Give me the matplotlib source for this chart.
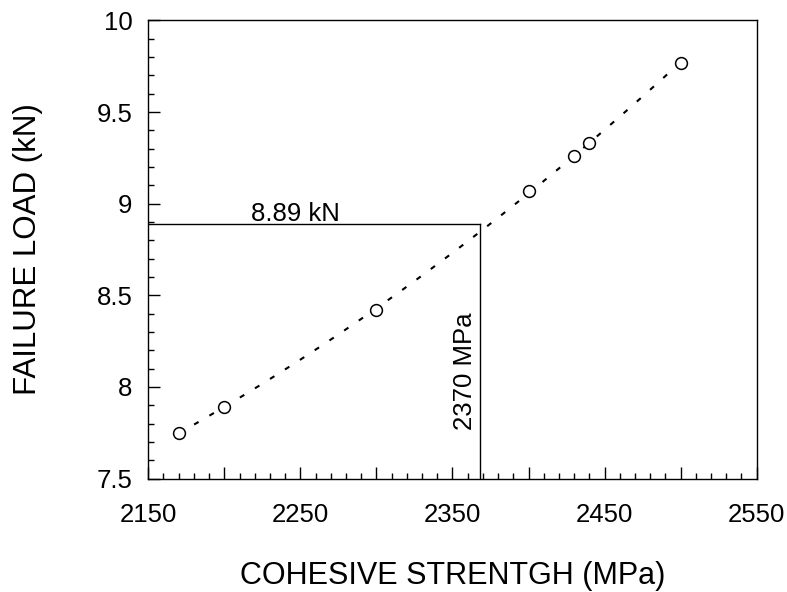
import numpy as np
import matplotlib
matplotlib.use("Agg")
import matplotlib.pyplot as plt
from matplotlib.ticker import MultipleLocator, FixedLocator

plt.rcParams['font.family'] = ['Liberation Sans', 'DejaVu Sans']

# data
cohesive_strength = [2170, 2200, 2300, 2400, 2430, 2440, 2500]
failure_load = [7.75, 7.89, 8.42, 9.07, 9.26, 9.33, 9.77]
ref_load = 8.89
ref_strength = 2368
x_tick_labels = ['2150', '', '2250', '', '2350', '', '2450', '', '2550']
y_tick_labels = ['7.5', '8', '8.5', '9', '9.5', '10']

fig = plt.figure(figsize=(7.87, 5.92), dpi=100)
ax = fig.add_axes([0.1884, 0.1917, 0.7731, 0.7737])

# fitted trend (quadratic fit through the data)
coef = np.polyfit(cohesive_strength, failure_load, 2)
xf = np.linspace(min(cohesive_strength), max(cohesive_strength), 200)
ax.plot(xf, np.polyval(coef, xf), color='black', lw=1.5, linestyle=(0, (2.5, 6)))

ax.plot(cohesive_strength, failure_load, 'o', mfc='white', mec='black', ms=8.5, mew=1.1, zorder=3)

# reference lines
ax.plot([2150, ref_strength], [ref_load, ref_load], color='black', lw=1.0)
ax.plot([ref_strength, ref_strength], [7.5, ref_load], color='black', lw=1.0)
ax.text(2246.5, 8.908, '8.89 kN', ha='center', va='baseline', fontsize=18.5)
ax.text(2363, 7.767, '2370 MPa', rotation=90, rotation_mode='anchor',
        ha='left', va='baseline', fontsize=18.5)

ax.set_xlim(2150, 2550)
ax.set_ylim(7.5, 10)
ax.xaxis.set_major_locator(FixedLocator(np.arange(2150, 2551, 50)))
ax.set_xticklabels(x_tick_labels)
ax.xaxis.set_minor_locator(MultipleLocator(10))
ax.yaxis.set_major_locator(FixedLocator([7.5, 8, 8.5, 9, 9.5, 10]))
ax.set_yticklabels(y_tick_labels)
ax.yaxis.set_minor_locator(MultipleLocator(0.1))

ax.tick_params(which='both', direction='in', top=False, right=False, labelsize=18.5)
ax.tick_params(axis='x', which='major', length=8.5, width=1, pad=17.5)
ax.tick_params(axis='x', which='minor', length=4.3, width=1)
ax.tick_params(axis='y', which='major', length=8.5, width=1, pad=11.5)
ax.tick_params(axis='y', which='minor', length=4.3, width=1)

for s in ax.spines.values():
    s.set_linewidth(1.0)
    s.set_color('black')

ax.set_xlabel('COHESIVE STRENTGH (MPa)', fontsize=22)
ax.set_ylabel('FAILURE LOAD (kN)', fontsize=22.5)
ax.xaxis.set_label_coords(0.5, -0.180)
ax.yaxis.set_label_coords(-0.173, 0.5)

fig.savefig('out.png', dpi=100)
